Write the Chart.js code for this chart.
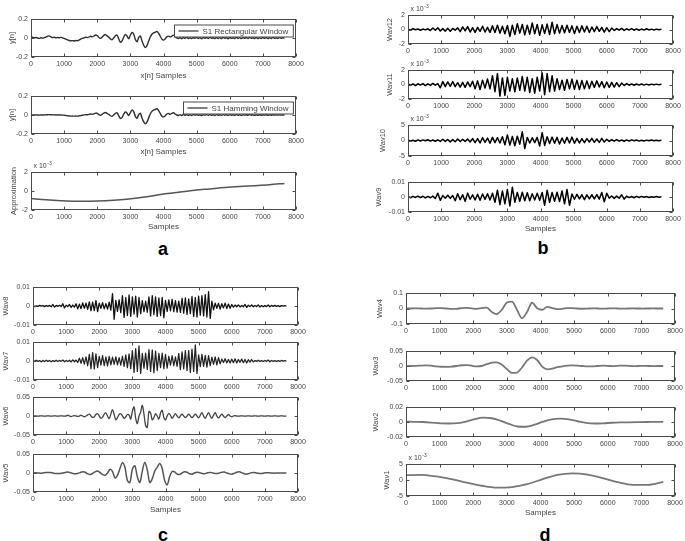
<!DOCTYPE html>
<html>
<head>
<meta charset="utf-8">
<script src="https://cdn.jsdelivr.net/npm/chart.js@4.4.1/dist/chart.umd.min.js"></script>
<style>
  html, body { margin: 0; padding: 0; background: #fff; }
  #page { position: relative; width: 685px; height: 541px; overflow: hidden; background: #fff; }
  #page canvas { position: absolute; }
  .tag { position: absolute; font: bold 18px "Liberation Sans", Arial, sans-serif; line-height: 18px; color: #000; transform: translate(-50%, -50%); }
</style>
</head>
<body>
<div id="page"></div>
<script>
// all series values are in units of 1e-3, one value every `step` samples
const xTickValues = [0, 1000, 2000, 3000, 4000, 5000, 6000, 7000, 8000];
const xTickLabels = ['0', '1000', '2000', '3000', '4000', '5000', '6000', '7000', '8000'];
const labelsPoint2 = ['-0.2', '0', '0.2'];
const labelsExp2 = ['-2', '0', '2'];
const labelsExp5 = ['-5', '0', '5'];
const labelsPoint01 = ['-0.01', '0', '0.01'];
const labelsPoint05 = ['-0.05', '0', '0.05'];
const labelsPoint1 = ['-0.1', '0', '0.1'];
const labelsPoint02 = ['-0.02', '0', '0.02'];

// panel a
const rectWindow = [
  5, 8, 2, 6, 0, -4, 3, -2, 4, 10,
  18, 22, 12, 4, 8, 3, 6, 2, 7, 1,
  -4, -12, -20, -26, -30, -28, -31, -27, -29, -22,
  -12, -5, 2, 8, 4, 10, 18, 12, 20, 32,
  26, 6, -4, 10, 28, 36, 22, 8, -10, -18,
  2, 24, 30, -10, -45, -30, 10, 38, 20, -8,
  30, 58, 40, -15, -40, 5, 20, -30, -75, -100,
  -80, -35, 10, 40, 55, 60, 70, 50, 20, -10,
  -22, -10, 12, 20, 10, 20, 30, 15, 0, -6,
  5, -8, 6, -4, 8, -6, 3, -7, 5, -3,
  7, -5, 4, -8, 6, -3, 5, -6, 8, -4,
  3, -7, 6, -5, 4, -6, 7, -3, 5, -8,
  6, -4, 3, -6, 8, -5, 4, -7, 5, -3,
  6, -5, 7, -4, 3, -6, 5, -7, 4, -5,
  6, -3, 5, -6, 4, -5, 7, -4, 3, -5,
  4, -3, 2, -2
];
const hammingWindow = [
  0, 1, 0, 1, 0, -1, 1, 0, 1, 2,
  3, 4, 2, 1, 2, 0, 1, 0, 1, -1,
  -2, -5, -8, -10, -12, -11, -12, -11, -12, -9,
  -6, -3, 1, 4, 2, 6, 10, 7, 12, 20,
  18, 4, -3, 8, 20, 26, 16, 6, -8, -14,
  2, 18, 24, -8, -36, -25, 8, 32, 18, -6,
  26, 52, 36, -14, -36, 4, 18, -28, -70, -92,
  -75, -32, 10, 38, 52, 58, 66, 48, 18, -10,
  -20, -9, 10, 17, 8, 16, 24, 12, 0, -5,
  4, -6, 5, -3, 6, -5, 2, -5, 4, -2,
  5, -4, 3, -6, 4, -2, 4, -4, 5, -3,
  2, -5, 4, -3, 3, -4, 4, -2, 3, -5,
  4, -3, 2, -4, 5, -3, 2, -4, 3, -2,
  3, -3, 4, -2, 2, -3, 3, -3, 2, -2,
  2, -1, 2, -2, 1, -2, 2, -1, 1, -1,
  1, -1, 0, 0
];
const approximation = [-0.8, -0.93, -1.02, -1.07, -1.07, -1.03, -0.93, -0.76, -0.55, -0.3,
  -0.1, 0.08, 0.22, 0.36, 0.47, 0.56, 0.66, 0.8];

// panel b
const wav12 = [
  0.05, -0.08, 0.1, -0.04, 0.07, -0.1, 0.06, -0.05, 0.1,
  -0.15, 0.2, -0.1, 0.25, -0.2, 0.12, -0.22, 0.18, -0.25, 0.15, -0.1, 0.22,
  -0.3, 0.35, -0.2, 0.4, -0.35, 0.25, -0.4, 0.3, -0.25, 0.45, -0.35, 0.3, -0.4,
  0.5, -0.4, 0.6, -0.5, 0.45, -0.6, 0.55,
  -0.95, 0.6, -0.7, 0.8, -0.5, 0.7, -0.75, 0.6, -0.65, 0.9, -0.6, 0.7, -0.8, 0.65, -0.55, 0.75, -0.7, 1.0, -0.6, 0.7,
  -0.5, 0.55, -0.45, 0.6, -0.4, 0.5, -0.55, 0.45, -0.4, 0.5, -0.35, 0.45, -0.4,
  0.35, -0.3, 0.4, -0.25, 0.3, -0.35, 0.25, -0.3, 0.2,
  -0.15, 0.12, -0.1, 0.15, -0.12, 0.1, -0.08, 0.12, -0.1, 0.08, -0.1, 0.06, -0.08, 0.1, -0.06, 0.05, -0.07, 0.05, -0.04, 0.03
];
const wav11 = [
  0.1, -0.12, 0.08, -0.15, 0.1, -0.08, 0.12, -0.15, 0.1, -0.12, 0.15, -0.1, 0.12,
  -0.45, 0.4,
  -0.3, 0.35, -0.25, 0.4, -0.3, 0.25, -0.35, 0.3, -0.4, 0.35, -0.3, 0.45,
  -0.6, 0.5, -0.7, 0.6, -0.5, 0.75, -0.6,
  1.2, -1.0, 1.5, -1.6, 0.9, -1.5, 1.0,
  -0.9, 0.8, -1.0, 0.9, -0.8, 1.1,
  -0.9, 1.0, -1.1, 0.8, -1.2, 1.0, -0.9, 1.6, -1.4, 1.5, -1.0, 1.2, -0.9, 0.8,
  -0.7, 0.6, -0.8, 0.7, -0.6, 0.75, -0.65, 0.6, -0.7, 0.55, -0.6, 0.5, -0.55,
  0.45, -0.4, 0.5, -0.35, 0.4, -0.45, 0.35, -0.4, 0.3, -0.35, 0.25, -0.3, 0.2, -0.15,
  0.12, -0.1, 0.08, -0.1, 0.07, -0.08, 0.06, -0.08, 0.05, -0.06, 0.05, -0.04, 0.05, -0.03, 0.02
];
const wav10 = [
  0.15, -0.2, 0.1, -0.25, 0.2, -0.15, 0.2, -0.1, 0.25, -0.2, 0.15, -0.25, 0.2, -0.3,
  0.4, -0.3, 0.35, -0.45, 0.3, -0.4, 0.5, -0.35, 0.4, -0.3, 0.45, -0.5, 0.6,
  -0.7, 0.6, -0.8, 0.9, -0.6, 0.8, -0.9, 1.0, -0.7, 0.9, -0.8,
  1.2, -1.4, 1.8, -1.5, 1.3, -1.7, 1.4, -1.2, 2.8, -2.6,
  1.0, -0.8, 0.9, -0.7, 1.0,
  -1.8, 2.5, -1.6,
  1.2, -1.0, 1.1, -0.9, 1.0, -1.1, 0.8, -0.9, 1.0, -0.8, 1.1,
  -0.9, 0.7, -0.8, 0.6, -0.7, 0.6, -0.5, 0.7, -0.6, 0.5, -0.6, 0.7, -0.5, 0.4,
  -0.3, 0.25, -0.2, 0.3, -0.2, 0.15, -0.25, 0.2, -0.15, 0.2, -0.1, 0.15, -0.2, 0.1, -0.15, 0.12, -0.1, 0.15, -0.08, 0.1, -0.05, 0.05
];
const wav9 = [
  0.3, -0.5, 0.4, -0.3, 0.6, -0.4, 0.5, -0.6, 0.4, -0.5, 0.6, -1.0,
  2.5, -2.2,
  1.0, -0.8, 1.2, -0.9, 1.0,
  -2.5, 2.2, -1.8,
  1.5, -2.8, 2.6, -1.5, 1.4,
  -2.0, 1.8, -2.2, 2.0, -1.6, 2.2, -2.0, 2.5, -3.5,
  4.5, -5.0, 4.0, -4.5, 5.0, -6.0, 6.5,
  -3.5, 3.0, -2.8, 3.2, -2.5, 2.8,
  -2.5, 2.2, -2.0, 2.5, -2.2, 3.0,
  -5.5, 4.5, -3.5,
  3.0, -2.8, 3.2, -3.0,
  4.0, -4.5, 5.0, -5.5,
  2.0, -1.5, 1.8, -1.2, 1.5, -1.8, 1.4, -1.2, 1.5, -1.3, 1.6, -1.4,
  3.0, -3.2, 2.5,
  -0.8, 0.7, -0.9, 0.6, -0.8, 1.5, -1.4,
  0.5, -0.4, 0.3, -0.5, 0.4, -0.3, 0.4, -0.2, 0.3, -0.3, 0.2, -0.2, 0.3, -0.1, 0.1
];

// panel c
const wav8 = [
  0.2, -0.3, 0.1, -0.2, 0.3, -0.1, 0.2, -0.3, 0.2, -0.2, 0.3, -0.4, 0.8, -0.6, 0.3, -0.2, 0.4, -0.3, 1.2, -1.0, 0.4, -0.3, 0.8, -0.7, 0.5, -0.6,
  1.2, -1.5, 1.0, -1.4, 1.6, -1.2, 1.5, -1.8,
  2.2, -2.5, 2.0, -2.4, 2.8, -3.0,
  1.5, -1.2, 1.8, -1.5, 1.2, -1.6, 2.0, -2.2,
  6.5, -7.0,
  3.0, -2.8, 3.2, -3.5,
  5.5, -6.0, 4.5, -5.0, 5.8, -5.5, 4.8, -4.2, 5.2, -5.8, 4.5, -4.0,
  2.8, -3.0, 2.5, -3.2,
  4.8, -5.2, 5.5, -4.5,
  4.8, -5.5, 4.2, -5.0, 4.5, -6.2,
  3.0, -2.8, 3.2, -2.5, 3.5, -3.0, 2.8, -3.2, 2.6, -3.4,
  4.0, -3.8, 4.2, -4.5, 3.8, -4.0,
  5.0, -5.5, 4.5, -5.8, 5.2, -4.8, 5.5, -5.2, 6.0, -5.8,
  7.5, -6.5,
  2.5, -2.0,
  1.5, -1.2, 1.4, -1.6, 1.2, -1.0, 1.5, -1.3, 1.0, -1.2, 0.8, -0.6,
  0.5, -0.4, 0.6, -0.5, 0.3, -0.4, 0.8, -0.7, 0.4, -0.3, 0.5, -0.4, 0.3, -0.3, 0.6, -0.5,
  0.3, -0.4, 0.2, -0.3, 0.5, -0.4, 0.3, -0.2, 0.3, -0.2, 0.2, -0.3, 0.2, -0.1, 0.2, -0.1
];
const wav7 = [
  0.3, -0.2, 0.4, -0.3, 0.2, -0.4, 0.3, -0.3, 0.4, -0.2, 0.3, -0.4, 0.2, -0.3, 0.4, -0.3, 0.3, -0.2, 0.5, -0.4, 0.3, -0.3, 0.4, -0.5, 0.6, -0.4, 0.5, -0.8,
  1.5, -1.2, 1.8, -1.6, 2.2, -2.5,
  3.5, -4.0, 4.4, -4.2, 3.8, -3.5,
  2.5, -2.2, 2.8, -2.5, 2.2, -2.6, 2.4, -2.0,
  2.0, -1.8, 2.2, -2.0, 1.8, -2.2, 2.5, -2.8,
  3.2, -3.5, 3.8, -4.0,
  5.5, -6.0, 6.5, -5.5, 7.9, -6.5,
  4.0, -3.8, 4.2, -4.5,
  6.0, -5.5, 5.8, -6.2, 5.2, -5.0,
  4.0, -3.5, 4.2, -4.0, 3.5, -3.8,
  2.5, -2.2, 2.8, -2.5, 2.2, -2.8,
  4.0, -4.5, 4.8, -4.2, 5.5, -5.0,
  5.5, -6.0, 6.2, -5.5, 8.5, -6.5,
  3.2, -3.0, 3.5, -2.8, 3.0, -3.2, 2.8, -2.5,
  2.0, -1.8, 2.2, -2.0, 1.8, -1.5,
  1.0, -0.8, 1.2, -1.0, 0.8, -1.1, 1.0, -0.9, 1.2, -1.0, 0.8, -0.7, 1.0, -0.9, 0.8, -1.0, 0.7, -0.6, 0.8, -0.5,
  0.3, -0.2, 0.4, -0.3, 0.2, -0.3, 0.3, -0.2, 0.5, -0.4, 0.3, -0.2, 0.2, -0.3, 0.2, -0.2, 0.3, -0.1, 0.2, -0.1
];
const wav6 = [
  0, 0.3, 0, -0.3, 0, 0.4, 0, -0.4, 0, 0.3, 0, -0.3, 0, 0.5, 0, -0.5, 0, 0.4, 0, -0.4,
  0, 2, 0, -1.5, 0, 1, 0, -1,
  0, 2, 0, -2, 0, 3, 5, 0, -4, -2,
  4, 6, 0, -6, -3, 5, 8, 0, -7, 5,
  17, 4, -10, -4, 4, 6, 0, -6, -2, 4,
  2, -8, 12, 24, -6, -20, 0, 10, 28, 5,
  -25, -30, 12, 8, -10, -4, 6, 0, -8, 8,
  15, -4, -10, 0, 7, 2, -6, 0, 6, 0,
  -5, 0, 5, 0, -4, 0, 5, 0, -4, 0,
  5, 0, -5, 2, 9, 0, -6, 2, 9, 0,
  -6, 2, 9, 0, -5, 0, 5, 0, -4, 0,
  4, 0, -2, 0, 1,
  0, -0.5, 0, 0.5, 0, -0.4, 0, 0.4, 0, -0.5, 0, 0.5, 0, -0.3, 0, 0.3, 0, -0.4, 0, 0.4, 0, -0.3, 0, 0.3, 0, -0.2, 0, 0.2, 0, -0.2, 0
];
const wav5 = [
  0, 0.5, 0, -0.5, 0, 1, 1.5, 1, 0, -1,
  -1.5, -1, 0, 1.5, 2.5, 1, -1, -2, -1, 1,
  3, 2, -2, -4, -1, 3, 5, 1, -4, -6,
  0, 10, 4, -13, -6, 12, 27, 15, -20, -25,
  10, 19, -10, -25, 5, 28, 8, -25, -15, 5,
  15, 25, 12, -20, -31, -10, 4, 3, -3, -4,
  0, 3, 2, -2, -3, 0, 2, 1, -1, -2,
  0, 1.5, 1, -1, -1.5, 0, 2, 2.5, 0, -2,
  -3, -1, 2, 3, 1, -2, -3, -1, 1, 1.5,
  0, -1, -1, 0, 0.5, 0.5, 0, -0.5, 0, 0.3,
  0, -0.2, 0
];

// panel d
const wav4 = [
  0, 0, 0.5, 0, -0.5, 0, 2, 3, 0, -3,
  -2, 2, 4, 1, -2, 2, 6, -22, -36, -8,
  38, 45, -8, -63, -22, 37, 2, -8, 10, 3,
  -4, -2, 3, 3, 0, -1.5, -0.5, 0.5, 0, -0.5,
  0, 0.5, 0, -0.5, 0, 0.3, 0, -0.3, 0, 0.2,
  0, 0
];
const wav3 = [
  -1, 0, 0.5, 1.5, 2, 1, -1, -2.5, -3, -2,
  0, 2.5, 3, 1, -1.5, 0, 6, 11, 12, 4,
  -10, -23, -22, -5, 18, 29, 20, -2, -11, -9,
  -4, -1, 1, 2, 1.5, 0, -1, -1, 0, 1,
  0.5, -0.5, 0.5, 1.5, 0.5, -0.5, 0, 0.5, 0, -0.3,
  0, 0
];
const wav2 = [0.4, 0.3, 0, -0.8, -1.8, -2.0, -1.5, 0.5, 3.8, 5.8,
  5.0, 1.8, -2.5, -6.0, -6.3, -3.5, 0.5, 3.5, 4.4, 3.5,
  1.0, -1.2, -2.0, -1.7, -1.0, -0.6, -0.4, -0.2, 0, 0.1, 0.2];
const wav1 = [1.5, 1.6, 1.1, 0.3, -0.8, -1.8, -2.4, -2.2, -1.3, 0.2,
  1.6, 2.1, 1.7, 0.6, -0.7, -1.5, -1.5, -0.6];

const FONT = '"Liberation Sans", Arial, Helvetica, sans-serif';
const TEXT = '#444';
Chart.defaults.font.family = FONT;

// box = [left, top, right, bottom] of each axes frame on the page
const plots = [
  { data: rectWindow, step: 50, box: [31, 19, 296, 57], range: 200, yLabels: labelsPoint2, yTitle: 'y[n]', titleX: 11.5,
    xTitle: 'x[n] Samples', gap: 19, legend: 'S1 Rectangular Window', color: '#2e2e2e', lw: 1.4, tension: 0.3 },
  { data: hammingWindow, step: 50, box: [31, 96, 296, 134], range: 200, yLabels: labelsPoint2, yTitle: 'y[n]', titleX: 11.5,
    xTitle: 'x[n] Samples', gap: 18, legend: 'S1 Hamming Window', color: '#2e2e2e', lw: 1.4, tension: 0.3 },
  { data: approximation, step: 450, box: [31, 172, 296, 210], range: 2, yLabels: labelsExp2, yTitle: 'Approximation', titleX: 14,
    xTitle: 'Samples', gap: 17, exponent: true, color: '#555', lw: 1.5, mono: true },

  { data: wav12, step: 75, box: [408, 15, 673, 44], range: 2, yLabels: labelsExp2, yTitle: 'Wav12', titleX: 390, exponent: true, color: '#000', lw: 1.5 },
  { data: wav11, step: 75, box: [408, 70, 673, 99], range: 2, yLabels: labelsExp2, yTitle: 'Wav11', titleX: 390, exponent: true, color: '#000', lw: 1.5 },
  { data: wav10, step: 75, box: [408, 125, 673, 156], range: 5, yLabels: labelsExp5, yTitle: 'Wav10', titleX: 383, exponent: true, color: '#000', lw: 1.5 },
  { data: wav9, step: 75, box: [408, 182, 673, 212], range: 10, yLabels: labelsPoint01, yTitle: 'Wav9', titleX: 379,
    xTitle: 'Samples', gap: 17, color: '#000', lw: 1.5 },

  { data: wav8, step: 50, box: [33, 287, 298, 325], range: 10, yLabels: labelsPoint01, yTitle: 'Wav8', titleX: 6, color: '#111', lw: 1.3 },
  { data: wav7, step: 50, box: [33, 342, 298, 380], range: 10, yLabels: labelsPoint01, yTitle: 'Wav7', titleX: 6, color: '#222', lw: 1.25 },
  { data: wav6, step: 50, box: [33, 397, 298, 435], range: 50, yLabels: labelsPoint05, yTitle: 'Wav6', titleX: 6, color: '#444', lw: 1.3, tension: 0.35 },
  { data: wav5, step: 75, box: [33, 454, 298, 492], range: 50, yLabels: labelsPoint05, yTitle: 'Wav5', titleX: 6,
    xTitle: 'Samples', gap: 18, color: '#555', lw: 1.5, tension: 0.35 },

  { data: wav4, step: 150, box: [406, 293, 675, 324], range: 100, yLabels: labelsPoint1, yTitle: 'Wav4', titleX: 380, color: '#777', lw: 1.8, mono: true },
  { data: wav3, step: 150, box: [406, 351, 675, 381], range: 50, yLabels: labelsPoint05, yTitle: 'Wav3', titleX: 376, color: '#777', lw: 1.8, mono: true },
  { data: wav2, step: 255, box: [406, 407, 675, 437], range: 20, yLabels: labelsPoint02, yTitle: 'Wav2', titleX: 376, color: '#777', lw: 1.8, mono: true },
  { data: wav1, step: 450, box: [406, 464, 675, 496], range: 5, yLabels: labelsExp5, yTitle: 'Wav1', titleX: 387,
    xTitle: 'Samples', gap: 17, exponent: true, color: '#777', lw: 1.8, mono: true }
];

const tags = [
  { text: 'a', x: 163, y: 248.5 },
  { text: 'b', x: 543, y: 248 },
  { text: 'c', x: 163, y: 534.5 },
  { text: 'd', x: 545, y: 535 }
];

const LEFT = 50, TOP = 14, RIGHT = 14;

// matlab style frame: full box, inward ticks, rotated y title, exponent and legend
const matlabFrame = {
  id: 'matlabFrame',
  afterDraw(chart, args, o) {
    const { ctx, chartArea: a, scales: { x, y } } = chart;
    const L = Math.round(a.left) + 0.5, R = Math.round(a.right) - 0.5;
    const T = Math.round(a.top) + 0.5, B = Math.round(a.bottom) - 0.5;
    ctx.save();
    ctx.strokeStyle = '#4a4a4a';
    ctx.lineWidth = 1;
    ctx.strokeRect(L, T, R - L, B - T);
    ctx.beginPath();
    x.ticks.forEach(t => {
      const px = Math.round(x.getPixelForValue(t.value)) + 0.5;
      ctx.moveTo(px, B); ctx.lineTo(px, B - 3);
      ctx.moveTo(px, T); ctx.lineTo(px, T + 3);
    });
    y.ticks.forEach(t => {
      const py = Math.round(y.getPixelForValue(t.value)) + 0.5;
      ctx.moveTo(L, py); ctx.lineTo(L + 3, py);
      ctx.moveTo(R, py); ctx.lineTo(R - 3, py);
    });
    ctx.stroke();

    ctx.fillStyle = TEXT;
    ctx.font = '7.5px ' + FONT;
    ctx.textAlign = 'center';
    ctx.textBaseline = 'middle';
    ctx.save();
    ctx.translate(o.titleX, (a.top + a.bottom) / 2);
    ctx.rotate(-Math.PI / 2);
    ctx.fillText(o.yTitle, 0, 0);
    ctx.restore();

    if (o.exponent) {
      ctx.textAlign = 'left';
      ctx.textBaseline = 'alphabetic';
      ctx.font = '7px ' + FONT;
      ctx.fillText('x 10', L + 2, T - 4.5);
      const w = ctx.measureText('x 10').width;
      ctx.font = '5px ' + FONT;
      ctx.fillText('-3', L + 2.5 + w, T - 8);
    }

    if (o.legend) {
      ctx.font = '8px ' + FONT;
      const tw = ctx.measureText(o.legend).width;
      const h = 12, w = 4 + 20 + 4 + tw + 5;
      const lx = Math.round(R - 3 - w) + 0.5, ly = Math.round(T + 5);
      ctx.fillStyle = '#fff';
      ctx.fillRect(lx, ly, w, h);
      ctx.strokeRect(lx, ly, w, h);
      ctx.beginPath();
      ctx.strokeStyle = o.color;
      ctx.lineWidth = 1.2;
      ctx.moveTo(lx + 4, ly + h / 2);
      ctx.lineTo(lx + 24, ly + h / 2);
      ctx.stroke();
      ctx.fillStyle = TEXT;
      ctx.textAlign = 'left';
      ctx.textBaseline = 'middle';
      ctx.fillText(o.legend, lx + 28, ly + h / 2 + 0.5);
    }
    ctx.restore();
  }
};

const page = document.getElementById('page');

plots.forEach(p => {
  const [l, t, r, b] = p.box;
  const axisH = p.xTitle ? Math.round(p.gap + 4.8) : 12;
  const canvas = document.createElement('canvas');
  canvas.width = LEFT + (r - l) + RIGHT;
  canvas.height = TOP + (b - t) + axisH;
  canvas.style.left = (l - LEFT) + 'px';
  canvas.style.top = (t - TOP) + 'px';
  page.appendChild(canvas);

  new Chart(canvas, {
    type: 'line',
    data: {
      datasets: [{
        data: p.data.map((v, i) => ({ x: i * p.step, y: v })),
        borderColor: p.color,
        borderWidth: p.lw,
        borderJoinStyle: 'round',
        pointRadius: 0,
        fill: false,
        tension: p.tension || 0,
        cubicInterpolationMode: p.mono ? 'monotone' : 'default'
      }]
    },
    options: {
      responsive: false,
      animation: false,
      events: [],
      layout: { padding: { top: TOP, right: RIGHT, left: 0, bottom: 0 } },
      plugins: {
        legend: { display: false },
        tooltip: { enabled: false },
        matlabFrame: {
          titleX: p.titleX - (l - LEFT),
          yTitle: p.yTitle,
          exponent: !!p.exponent,
          legend: p.legend,
          color: p.color
        }
      },
      scales: {
        x: {
          type: 'linear',
          min: 0,
          max: 8000,
          afterBuildTicks: s => { s.ticks = xTickValues.map(v => ({ value: v })); },
          afterFit: s => { s.height = axisH; },
          grid: { display: false, drawTicks: false },
          border: { display: false },
          ticks: {
            autoSkip: false, maxRotation: 0, padding: 3, color: TEXT,
            font: { size: 7 },
            callback: (v, i) => xTickLabels[i]
          },
          title: {
            display: !!p.xTitle, text: p.xTitle || '', color: TEXT,
            font: { size: 8 }, padding: { top: 0, bottom: 0 }
          }
        },
        y: {
          type: 'linear',
          min: -p.range,
          max: p.range,
          afterBuildTicks: s => { s.ticks = [-p.range, 0, p.range].map(v => ({ value: v })); },
          afterFit: s => { s.width = LEFT; },
          grid: { display: false, drawTicks: false },
          border: { display: false },
          ticks: {
            autoSkip: false, padding: 3, color: TEXT,
            font: { size: 7 },
            callback: (v, i) => p.yLabels[i]
          }
        }
      }
    },
    plugins: [matlabFrame]
  });
});

tags.forEach(g => {
  const d = document.createElement('div');
  d.className = 'tag';
  d.textContent = g.text;
  d.style.left = g.x + 'px';
  d.style.top = g.y + 'px';
  page.appendChild(d);
});
</script>
</body>
</html>
